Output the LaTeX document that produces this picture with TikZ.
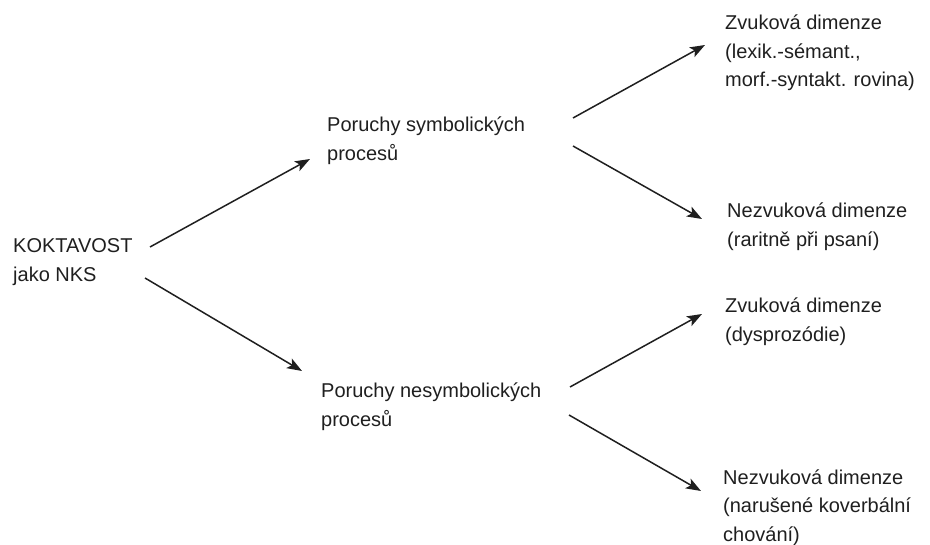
\documentclass[tikz,border=0pt]{standalone}
\usepackage{fontspec}
\setmainfont{Liberation Sans}
\usetikzlibrary{arrows.meta}
\begin{document}
\begin{tikzpicture}[x=1pt,y=-1pt,
  lbl/.style={anchor=base west, inner sep=0pt, align=left,
              font=\fontsize{20}{28.5}\selectfont, text=black!88},
  arr/.style={-{Stealth[length=15pt,width=11pt,inset=3.5pt]}, line width=1.5pt, draw=black!88}]
\useasboundingbox (0,0) rectangle (930,545);

% anchor = baseline of the last line
\node[lbl] (kok)  at (13,281.5)  {KOKTAVOST\\jako NKS};
\node[lbl] (sym)  at (327,160.5) {Poruchy symbolických\\procesů};
\node[lbl] (nsym) at (321,426.5) {Poruchy nesymbolických\\procesů};
\node[lbl] (z1)   at (725,87)    {Zvuková dimenze\\(lexik.-sémant.,\\morf.-syntakt. rovina)};
\node[lbl] (n1)   at (727,246.5) {Nezvuková dimenze\\(raritně při psaní)};
\node[lbl] (z2)   at (725,341.5) {Zvuková dimenze\\(dysprozódie)};
\node[lbl] (n2)   at (723,541)   {Nezvuková dimenze\\(narušené koverbální\\chování)};

\coordinate (kokA) at (150,247);
\coordinate (kokB) at (145,278);
\coordinate (symIn) at (310,159);
\coordinate (nsymIn) at (302,371);
\coordinate (symA) at (573,118);
\coordinate (symB) at (573,146);
\coordinate (nsymA) at (570,387);
\coordinate (nsymB) at (569,415);
\coordinate (z1In) at (705,45);
\coordinate (n1In) at (702,219);
\coordinate (z2In) at (702,314);
\coordinate (n2In) at (701,491);

\draw[arr] (kokA) -- (symIn);
\draw[arr] (kokB) -- (nsymIn);
\draw[arr] (symA) -- (z1In);
\draw[arr] (symB) -- (n1In);
\draw[arr] (nsymA) -- (z2In);
\draw[arr] (nsymB) -- (n2In);
\end{tikzpicture}
\end{document}
